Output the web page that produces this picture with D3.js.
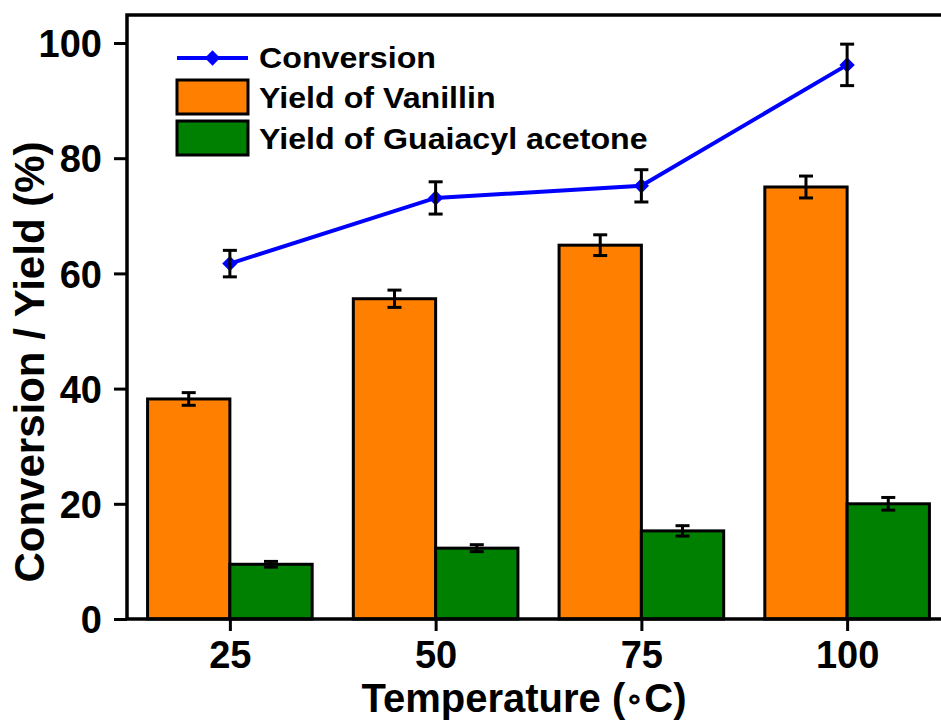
<!DOCTYPE html>
<html>
<head>
<meta charset="utf-8">
<script src="https://cdn.jsdelivr.net/npm/d3@7"></script>
<style>
  html, body { margin: 0; padding: 0; background: #ffffff; }
  svg { display: block; font-family: "Liberation Sans", Arial, sans-serif; font-weight: bold; }
</style>
</head>
<body>
<svg id="chart" width="941" height="720"></svg>
<script>
// Temperatures (°C) and measured values (%)
const temperatures = [25, 50, 75, 100];
const conversion = [61.7, 73.1, 75.2, 96.2];
const conversionErr = [2.3, 2.8, 2.8, 3.6];
const vanillinYield = [38.2, 55.6, 64.9, 75.0];
const vanillinErr = [1.1, 1.5, 1.8, 1.9];
const guaiacylYield = [9.5, 12.3, 15.3, 20.0];
const guaiacylErr = [0.5, 0.6, 0.9, 1.1];
const yTicks = [0, 20, 40, 60, 80, 100];
const legendLabels = ["Conversion", "Yield of Vanillin", "Yield of Guaiacyl acetone"];

const colors = { conv: "#0000ff", van: "#ff8000", gua: "#008000" };
const barW = 10; // bar width in temperature units

const svg = d3.select("#chart");
const plotL = 127, plotR = 950, plotT = 15, plotB = 619;

const x = d3.scaleLinear().domain([12.5, 112.5]).range([plotL, plotR]);
const y = d3.scaleLinear().domain([0, 104.86]).range([plotB, plotT]);

// Bars
const g = svg.append("g");
temperatures.forEach((t, i) => {
  g.append("rect")
    .attr("x", x(t - barW)).attr("width", x(t) - x(t - barW))
    .attr("y", y(vanillinYield[i])).attr("height", y(0) - y(vanillinYield[i]))
    .attr("fill", colors.van).attr("stroke", "#000").attr("stroke-width", 3);
  g.append("rect")
    .attr("x", x(t)).attr("width", x(t + barW) - x(t))
    .attr("y", y(guaiacylYield[i])).attr("height", y(0) - y(guaiacylYield[i]))
    .attr("fill", colors.gua).attr("stroke", "#000").attr("stroke-width", 3);
});

function errorBar(cx, v, e) {
  const cap = 7;
  const eg = svg.append("g").attr("stroke", "#000").attr("stroke-width", 3).attr("fill", "none");
  eg.append("line").attr("x1", cx).attr("x2", cx).attr("y1", y(v - e)).attr("y2", y(v + e));
  eg.append("line").attr("x1", cx - cap).attr("x2", cx + cap).attr("y1", y(v + e)).attr("y2", y(v + e));
  eg.append("line").attr("x1", cx - cap).attr("x2", cx + cap).attr("y1", y(v - e)).attr("y2", y(v - e));
}

temperatures.forEach((t, i) => {
  errorBar(x(t - barW / 2), vanillinYield[i], vanillinErr[i]);
  errorBar(x(t + barW / 2), guaiacylYield[i], guaiacylErr[i]);
});

// Conversion line with diamond markers
const line = d3.line().x((d, i) => x(temperatures[i])).y(d => y(d));
svg.append("path").datum(conversion)
  .attr("d", line).attr("fill", "none")
  .attr("stroke", colors.conv).attr("stroke-width", 4);

const diamond = d3.symbol().type(d3.symbolDiamond2).size(150);
svg.selectAll(".conv-pt").data(conversion).enter().append("path")
  .attr("class", "conv-pt")
  .attr("d", diamond)
  .attr("transform", (d, i) => `translate(${x(temperatures[i])},${y(d)})`)
  .attr("fill", colors.conv);

temperatures.forEach((t, i) => errorBar(x(t), conversion[i], conversionErr[i]));

// Axes
const yAxis = d3.axisLeft(y).tickValues(yTicks).tickSize(13).tickPadding(12).tickFormat(d3.format("d"));
const yg = svg.append("g").attr("transform", `translate(${plotL},0)`).call(yAxis);
const xAxis = d3.axisBottom(x).tickValues(temperatures).tickSize(12).tickPadding(10).tickFormat(d3.format("d"));
const xg = svg.append("g").attr("transform", `translate(0,${plotB})`).call(xAxis);
[yg, xg].forEach(ax => {
  ax.select(".domain").remove();
  ax.selectAll(".tick line").attr("stroke", "#000").attr("stroke-width", 3);
  ax.selectAll(".tick text").attr("fill", "#000")
    .style("font-size", "38px").style("font-weight", "bold")
    .style("font-family", "'Liberation Sans', Arial, sans-serif");
});
yg.selectAll(".tick text").attr("dy", "0.36em");

// Frame
svg.append("rect").attr("x", plotL).attr("y", plotT)
  .attr("width", plotR - plotL).attr("height", plotB - plotT)
  .attr("fill", "none").attr("stroke", "#000").attr("stroke-width", 3.5);

// Axis titles
const xt = svg.append("text")
  .attr("x", 524).attr("y", 712).attr("text-anchor", "middle")
  .style("font-size", "40px").attr("fill", "#000");
xt.append("tspan").text("Temperature (");
xt.append("tspan").style("font-size", "30px").attr("dy", "-3").text("\u2218");
xt.append("tspan").attr("dy", "3").text("C)");

svg.append("text")
  .attr("transform", "translate(44,362) rotate(-90)")
  .attr("text-anchor", "middle")
  .style("font-size", "42px").attr("fill", "#000")
  .text("Conversion / Yield (%)");

// Legend
const lg = svg.append("g");
const lx0 = 177, lx1 = 248, tx = 259;
lg.append("line").attr("x1", lx0).attr("x2", lx1).attr("y1", 58).attr("y2", 58)
  .attr("stroke", colors.conv).attr("stroke-width", 4);
lg.append("path").attr("d", diamond).attr("transform", `translate(${(lx0 + lx1) / 2},58)`)
  .attr("fill", colors.conv);
lg.append("rect").attr("x", lx0).attr("y", 80).attr("width", lx1 - lx0).attr("height", 34)
  .attr("fill", colors.van).attr("stroke", "#000").attr("stroke-width", 3);
lg.append("rect").attr("x", lx0).attr("y", 121).attr("width", lx1 - lx0).attr("height", 34)
  .attr("fill", colors.gua).attr("stroke", "#000").attr("stroke-width", 3);
const legendY = [58, 98, 139];
legendLabels.forEach((txt, i) => {
  lg.append("text").attr("x", tx).attr("y", legendY[i]).attr("dy", "0.36em")
    .style("font-size", "29px").attr("fill", "#000")
    .attr("transform", `translate(${tx},0) scale(1.11,1) translate(${-tx},0)`)
    .text(txt);
});
</script>
</body>
</html>
